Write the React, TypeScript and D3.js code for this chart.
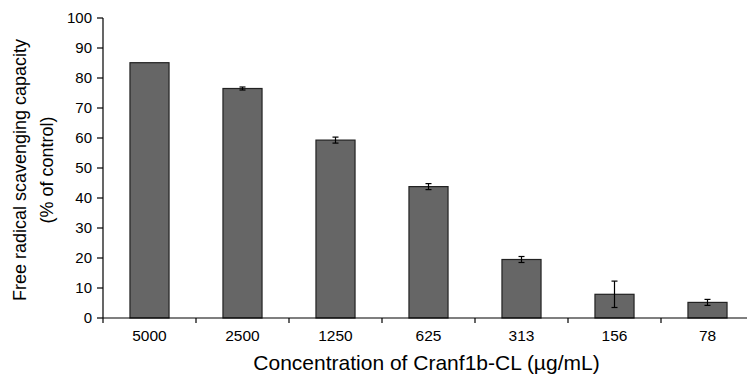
import React from 'react';
import * as d3 from 'd3';

// concentrations (µg/mL) and scavenging capacity (% of control)
const concentrations = ['5000', '2500', '1250', '625', '313', '156', '78'];
const capacity = [85.1, 76.5, 59.3, 43.8, 19.5, 7.9, 5.2];
const errors = [0, 0.5, 1.0, 1.0, 1.0, 4.4, 1.0];
const yTicks = [0, 10, 20, 30, 40, 50, 60, 70, 80, 90, 100];

const App = () => {
  const width = 747;
  const height = 375;
  const left = 103;
  const right = 754;
  const top = 18;
  const bottom = 318;

  const x = d3.scaleBand().domain(concentrations).range([left, right]).paddingInner(0).paddingOuter(0);
  const y = d3.scaleLinear().domain([0, 100]).range([bottom, top]);
  const barW = x.bandwidth() * 0.42;
  const font = 'Liberation Sans, Arial, Helvetica, sans-serif';

  return (
    <svg
      width={width}
      height={height}
      style={{ position: 'absolute', left: 0, top: 0, background: '#fff' }}
      fontFamily={font}
    >
      {/* bars */}
      {concentrations.map((c, i) => {
        const cx = (x(c) as number) + x.bandwidth() / 2;
        return (
          <g key={c}>
            <rect
              x={cx - barW / 2}
              y={y(capacity[i])}
              width={barW}
              height={y(0) - y(capacity[i])}
              fill="#666666"
              stroke="#222"
              strokeWidth={1.2}
            />
            {errors[i] > 0 && (
              <g stroke="#000" strokeWidth={1.2}>
                <line x1={cx} x2={cx} y1={y(capacity[i] + errors[i])} y2={y(capacity[i] - errors[i])} />
                <line x1={cx - 3} x2={cx + 3} y1={y(capacity[i] + errors[i])} y2={y(capacity[i] + errors[i])} />
                <line x1={cx - 3} x2={cx + 3} y1={y(capacity[i] - errors[i])} y2={y(capacity[i] - errors[i])} />
              </g>
            )}
          </g>
        );
      })}

      {/* y axis */}
      <line x1={left} x2={left} y1={top} y2={bottom + 5} stroke="#000" strokeWidth={1.2} />
      {yTicks.map((t) => (
        <g key={t}>
          <line x1={left - 6} x2={left} y1={y(t)} y2={y(t)} stroke="#000" strokeWidth={1.2} />
          <text x={left - 11} y={y(t)} dy="0.36em" textAnchor="end" fontSize={15}>
            {t}
          </text>
        </g>
      ))}

      {/* x axis */}
      <line x1={left} x2={right} y1={bottom} y2={bottom} stroke="#000" strokeWidth={1.2} />
      {concentrations.map((c) => (
        <line
          key={'t' + c}
          x1={(x(c) as number) + x.bandwidth()}
          x2={(x(c) as number) + x.bandwidth()}
          y1={bottom}
          y2={bottom + 5}
          stroke="#000"
          strokeWidth={1.2}
        />
      ))}
      {concentrations.map((c) => (
        <text
          key={'l' + c}
          x={(x(c) as number) + x.bandwidth() / 2}
          y={341}
          textAnchor="middle"
          fontSize={15.5}
        >
          {c}
        </text>
      ))}

      {/* titles */}
      <text x={(left + right) / 2 - 2} y={370} textAnchor="middle" fontSize={21}>
        Concentration of Cranf1b-CL (µg/mL)
      </text>
      <text transform="translate(26,170) rotate(-90)" textAnchor="middle" fontSize={18}>
        Free radical scavenging capacity
      </text>
      <text transform="translate(53,170) rotate(-90)" textAnchor="middle" fontSize={18}>
        (% of control)
      </text>
    </svg>
  );
};

export default App;
